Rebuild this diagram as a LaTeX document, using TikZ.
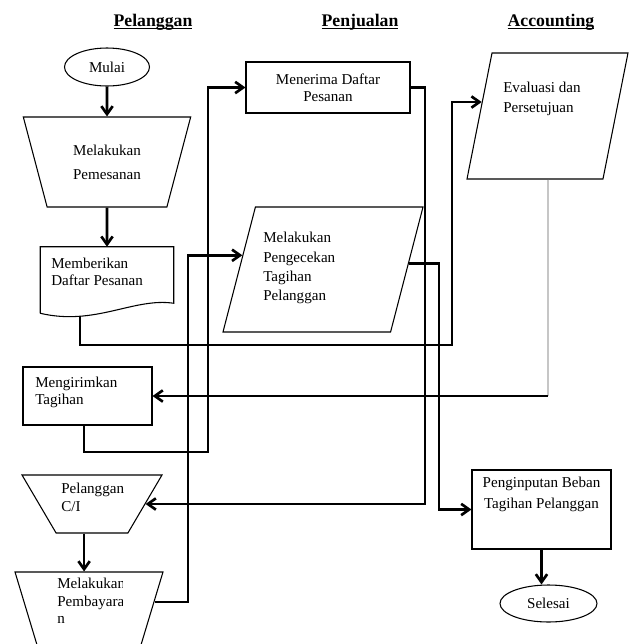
\documentclass[tikz,border=0pt]{standalone}
\usepackage{fontspec}
\setmainfont{Liberation Serif}
\usetikzlibrary{positioning,shapes.geometric,arrows.meta,calc}

\begin{document}
\begin{tikzpicture}
[x=0.75pt, y=-0.75pt,
    font=\fontsize{11.3}{12.5}\selectfont,
    >={Straight Barb[length=6pt,width=8.5pt]},
    every node/.style={inner sep=0pt, align=center},
    shape line/.style={draw=black, line width=0.8pt},
    box/.style={shape line, rectangle},
    oval/.style={shape line, ellipse},
    manual/.style={shape line, trapezium, trapezium stretches=true,
        shape border rotate=180, inner sep=2pt},
    slant/.style={shape line, trapezium, trapezium stretches=true, inner sep=2pt},
    lbl/.style={anchor=north west, align=left},
    flow/.style={->, line width=2pt},
    head/.style={anchor=base, font=\fontsize{13.3}{15}\selectfont\bfseries},
    ]
    \useasboundingbox (0,0) rectangle (629,644);
    \clip (0,0) rectangle (629,644);

    % lane headings
    \node[head] (hpel) at (153,26.5) {\underline{\smash{Pelanggan}}};
    \node[head] (hpen) at (360,26.5) {\underline{\smash{Penjualan}}};
    \node[head] (hacc) at (551,26.5) {\underline{\smash{Accounting}}};

    % Pelanggan
    \node[oval, minimum width=63.75pt, minimum height=28.5pt] (mulai) at (107,67) {Mulai};
    \node[manual, trapezium left angle=70, trapezium right angle=70,
          minimum width=126pt, minimum height=67.5pt] (pesan) at (107,162)
          {Melakukan\\[5.5pt]Pemesanan};

    % document shape
    \node[minimum width=99.75pt, minimum height=49.5pt] (daftar) at (107,280) {};
    \draw[shape line] (daftar.south west) -- (daftar.north west) -- (daftar.north east)
        -- ($(daftar.south east)+(0,-10)$)
        .. controls ($(daftar.south east)+(-40,-16)$) and ($(daftar.south west)+(55,13)$)
        .. (daftar.south west);
    \node[lbl] (daftartxt) at ($(daftar.center)+(-56,-22)$) {Memberikan\\Daftar Pesanan};

    \node[box, minimum width=96.75pt, minimum height=43.5pt] (kirim) at (87.5,396) {};
    \node[lbl] (kirimtxt) at ($(kirim.center)+(-52.5,-19)$) {Mengirimkan\\Tagihan};

    \node[manual, trapezium left angle=64.6, trapezium right angle=64.6,
          minimum width=105pt, minimum height=43.5pt] (ci) at (92,504) {};
    \node[lbl] (citxt) at ($(ci.center)+(-31,-21)$) {Pelanggan\\[1pt]C/I};

    \node[manual, trapezium left angle=71, trapezium right angle=71,
          minimum width=111pt, minimum height=75pt] (bayar) at (89,622) {};
    \begin{scope}
        \clip ($(bayar.center)+(-40,-55)$) rectangle ($(bayar.center)+(33,30)$);
        \node[lbl] (bayartxt) at ($(bayar.center)+(-32,-44)$) {Melakukan\\[0.6pt]Pembayara\\[0.6pt]n};
    \end{scope}

    % Penjualan
    \node[box, minimum width=123pt, minimum height=38.25pt] (terima) at (328,87.5)
          {Menerima Daftar\\Pesanan};
    \node[slant, trapezium left angle=76.5, trapezium right angle=103.5,
          minimum width=150pt, minimum height=93.75pt] (cek) at (323,269.5) {};
    \node[lbl] (cektxt) at ($(cek.center)+(-60,-37.5)$)
          {Melakukan\\[2pt]Pengecekan\\[2pt]Tagihan\\[2pt]Pelanggan};

    % Accounting
    \node[slant, trapezium left angle=77.3, trapezium right angle=102.7,
          minimum width=120.75pt, minimum height=94.5pt] (eval) at (547.5,116) {};
    \node[lbl] (evaltxt) at ($(eval.center)+(-44.5,-34)$) {Evaluasi dan\\[2.5pt]Persetujuan};
    \node[box, minimum width=104.25pt, minimum height=59.25pt] (input) at (541.5,509.5) {};
    \node[anchor=north] (inputtxt) at ($(input.center)+(0,-32.5)$)
          {Penginputan Beban\\[3.25pt]Tagihan Pelanggan};
    \node[oval, minimum width=72.75pt, minimum height=27.75pt] (selesai) at (548.5,603.5) {Selesai};

    % routing lanes
    \coordinate (colL) at (84,0);
    \coordinate (lane1) at (452,345);
    \coordinate (lane2) at (208,452);
    \coordinate (lane3) at (425,0);
    \coordinate (lane4) at (188,400);
    \coordinate (lane5) at (439,0);

    \draw[flow] (mulai) -- (pesan);
    \draw[flow] (pesan) -- (daftar);
    \draw[flow] ($(daftar.231)+(0,3)$) |- (lane1) |- (eval.168);
    \draw[flow] (kirim.south -| colL) |- (lane2) |- (terima.west);
    \draw[flow] (terima.east) -| (lane3 |- ci.0) -- (ci.0);
    \draw[flow] (ci.255) -- (ci.255 |- bayar.96);
    \draw[flow] (bayar.17) -| (lane4) |- (cek.170);
    \draw[flow] (cek.4) -| (lane5 |- input.west) -- (input.west);
    \draw[gray!45, line width=1.5pt] (eval.270) -- (eval.270 |- kirim.east);
    \draw[flow] (eval.270 |- kirim.east) -- (kirim.east);
    \draw[flow] (input.south) -- (input.south |- selesai.north);

\end{tikzpicture}
\end{document}
